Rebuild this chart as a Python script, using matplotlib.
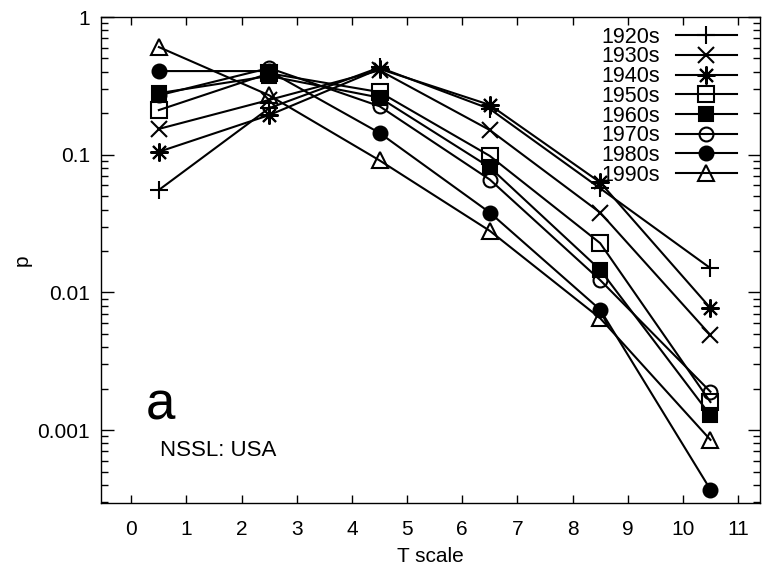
import matplotlib
matplotlib.use('Agg')
import matplotlib.pyplot as plt
from matplotlib.ticker import FixedLocator, LogLocator, NullFormatter, FuncFormatter

plt.rcParams['font.family'] = ['Liberation Sans', 'DejaVu Sans']

# T scale positions
t_scale = [0.5, 2.5, 4.5, 6.5, 8.5, 10.5]

# p per decade
p_1920s = [0.0555, 0.218, 0.43, 0.215, 0.057, 0.0150]
p_1930s = [0.154, 0.25, 0.41, 0.151, 0.038, 0.0049]
p_1940s = [0.105, 0.194, 0.42, 0.23, 0.063, 0.0077]
p_1950s = [0.211, 0.39, 0.285, 0.098, 0.0228, 0.0016]
p_1960s = [0.28, 0.373, 0.26, 0.081, 0.0146, 0.00128]
p_1970s = [0.27, 0.426, 0.225, 0.066, 0.0123, 0.0019]
p_1980s = [0.405, 0.405, 0.144, 0.038, 0.0075, 0.00037]
p_1990s = [0.605, 0.27, 0.091, 0.028, 0.0065, 0.00085]

labels = ['1920s', '1930s', '1940s', '1950s', '1960s', '1970s', '1980s', '1990s']
series = [p_1920s, p_1930s, p_1940s, p_1950s, p_1960s, p_1970s, p_1980s, p_1990s]
markers = ['+', 'x', (8, 2, 0), 's', 's', 'o', 'o', '^']
filled = [True, True, True, False, True, False, True, False]
msizes = [13, 11, 13, 11, 10, 10, 10, 11]

fig = plt.figure(figsize=(7.62, 5.77), dpi=100)
ax = fig.add_axes([0.1325, 0.128, 0.865, 0.8425])

for lab, vals, m, f, ms in zip(labels, series, markers, filled, msizes):
    ax.plot(t_scale, vals, color='black', linewidth=1.5, marker=m, markersize=ms,
            markeredgewidth=1.5, markerfacecolor='black' if f else 'none',
            markeredgecolor='black', label=lab)

ax.set_yscale('log')
ax.set_ylim(2.95e-4, 1)
ax.set_xlim(-0.55, 11.4)

ax.xaxis.set_major_locator(FixedLocator(range(0, 12)))
ax.yaxis.set_major_locator(FixedLocator([0.001, 0.01, 0.1, 1]))
ax.yaxis.set_major_formatter(FuncFormatter(lambda v, p: '%g' % v))
ax.yaxis.set_minor_locator(LogLocator(base=10, subs=range(2, 10)))
ax.yaxis.set_minor_formatter(NullFormatter())

ax.tick_params(which='both', direction='in', top=True, right=True, labelsize=15)
ax.tick_params(axis='x', which='major', length=6, width=1, pad=12)
ax.tick_params(axis='y', which='major', length=9, width=1, pad=8)
ax.tick_params(axis='y', which='minor', length=5, width=1)
for s in ax.spines.values():
    s.set_linewidth(1.0)

ax.set_xlabel('T scale', fontsize=15, labelpad=6)
ax.set_ylabel('p', fontsize=15, labelpad=4)

ax.text(0.068, 0.173, 'a', transform=ax.transAxes, fontsize=38)
ax.text(0.09, 0.098, 'NSSL: USA', transform=ax.transAxes, fontsize=16)

ax.legend(loc='upper right', bbox_to_anchor=(0.979, 1.0), frameon=False,
          markerfirst=False, fontsize=15.5, handlelength=2.8, labelspacing=-0.06,
          borderaxespad=0.2, handletextpad=0.75, borderpad=0.25)

fig.savefig('out.png', dpi=100)
